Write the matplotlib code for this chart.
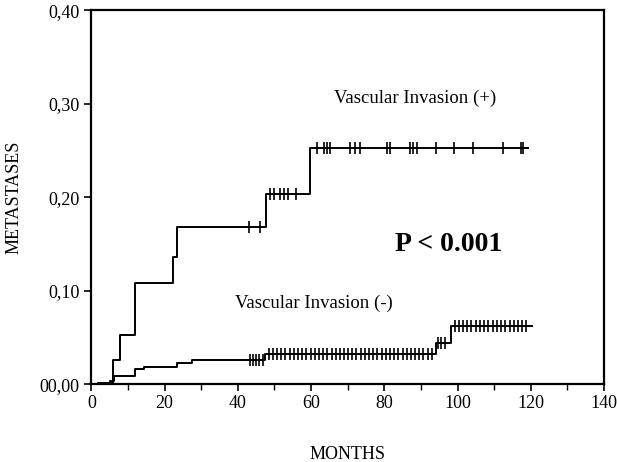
import matplotlib
matplotlib.use("Agg")
import matplotlib.pyplot as plt
import numpy as np

# ---- data ----
# Vascular Invasion (+): step times (months) and cumulative metastasis rate
pos_times = [0, 1.7, 6.0, 7.8, 11.8, 22.4, 23.5, 47.8, 59.6, 119.3]
pos_values = [0.0, 0.002, 0.026, 0.053, 0.108, 0.136, 0.168, 0.204, 0.253, 0.253]
pos_censor_t = [43.0, 46.0, 48.7, 50.0, 51.4, 52.5, 53.6, 55.8,
                61.6, 63.5, 64.3, 65.3, 70.7, 72.1, 73.3, 80.8, 81.5,
                87.0, 87.9, 89.0, 94.1, 99.0, 104.3, 112.3, 117.2, 117.9]

# Vascular Invasion (-)
neg_times = [0, 1.7, 5.0, 6.1, 12.0, 14.5, 23.5, 27.6, 47.5, 94.2, 98.3, 120.2]
neg_values = [0.0, 0.002, 0.004, 0.009, 0.016, 0.019, 0.023, 0.026, 0.032, 0.044, 0.062, 0.062]
neg_censor_t = [43.2, 44.1, 45.0, 45.9, 46.8,
                48.5, 49.6, 50.8, 51.9, 53.0, 54.2, 55.3, 56.5, 57.6, 58.7,
                59.9, 61.0, 62.2, 63.3, 64.4, 65.6, 66.7, 67.9, 69.0, 70.1,
                71.3, 72.4, 73.6, 74.7, 75.8, 77.0, 78.1, 79.3, 80.4, 81.5,
                82.7, 83.8, 85.0, 86.1, 87.2, 88.4, 89.5, 90.7, 91.8, 93.0,
                94.7, 95.6, 96.5,
                99.2, 100.4, 101.5, 102.7, 103.8, 105.0, 106.1, 107.3, 108.4,
                109.6, 110.7, 111.9, 113.0, 114.2, 115.3, 116.5, 117.6, 118.8]

x_ticks = [0, 20, 40, 60, 80, 100, 120, 140]
y_ticks = [0.0, 0.1, 0.2, 0.3, 0.4]
y_tick_labels = ["00,00", "0,10", "0,20", "0,30", "0,40"]


def value_at(times, values, t):
    idx = np.searchsorted(times, t, side="right") - 1
    return values[idx]


plt.rcParams['font.family'] = ['Liberation Serif', 'DejaVu Serif']

fig = plt.figure(figsize=(6.17, 4.62), dpi=100)
ax = fig.add_axes([0.148, 0.168, 0.831, 0.810])

ax.step(pos_times, pos_values, where="post", color="black", lw=1.4)
ax.step(neg_times, neg_values, where="post", color="black", lw=1.4)

ax.plot(pos_censor_t, [value_at(pos_times, pos_values, t) for t in pos_censor_t],
        linestyle="none", marker="|", markersize=9, mew=1.2, color="black")
ax.plot(neg_censor_t, [value_at(neg_times, neg_values, t) for t in neg_censor_t],
        linestyle="none", marker="|", markersize=9, mew=1.2, color="black")

ax.set_xlim(0, 140)
ax.set_ylim(0, 0.40)
ax.set_xticks(x_ticks)
ax.set_xticks(np.arange(10, 140, 20), minor=True)
ax.set_yticks(y_ticks)
ax.set_yticklabels(y_tick_labels)
ax.tick_params(axis="both", which="major", direction="out", length=5, width=1.2,
               labelsize=13, colors="black")
ax.tick_params(axis="x", which="minor", direction="out", length=4, width=1.0)
ax.tick_params(axis="x", pad=3)

for s in ax.spines.values():
    s.set_linewidth(1.6)
    s.set_color("black")

ax.set_xlabel("MONTHS", fontsize=13, labelpad=24)
ax.set_ylabel("METASTASES", fontsize=13, labelpad=12)

ax.text(88.4, 0.306, "Vascular Invasion (+)", fontsize=13.5, ha="center", va="center")
ax.text(60.9, 0.087, "Vascular Invasion (-)", fontsize=13.5, ha="center", va="center")
ax.text(97.6, 0.149, "P < 0.001", fontsize=20, fontweight="bold", ha="center", va="center")

fig.savefig("out.png", dpi=100)
